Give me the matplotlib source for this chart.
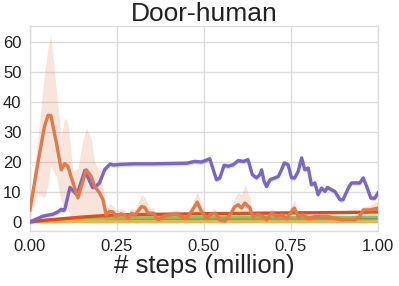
import matplotlib
matplotlib.use("Agg")
import matplotlib.pyplot as plt
import numpy as np

# ---------------- data ----------------
title = "Door-human"
xlabel = "# steps (million)"
xticks = [0.0, 0.25, 0.5, 0.75, 1.0]
xtick_labels = ["0.00", "0.25", "0.50", "0.75", "1.00"]
yticks = [0, 10, 20, 30, 40, 50, 60]

purple_x = [0.0, 0.02, 0.035, 0.05, 0.065, 0.08, 0.09, 0.095, 0.1, 0.115, 0.135, 0.158,
            0.17, 0.18, 0.19, 0.2, 0.215, 0.23, 0.24, 0.26, 0.3, 0.35, 0.4, 0.45, 0.474,
            0.493, 0.517, 0.527, 0.536, 0.546, 0.558, 0.57, 0.584, 0.599, 0.613, 0.627,
            0.639, 0.651, 0.661, 0.666, 0.673, 0.68, 0.69, 0.704, 0.714, 0.723, 0.731,
            0.742, 0.752, 0.761, 0.771, 0.781, 0.79, 0.8, 0.809, 0.819, 0.828, 0.838,
            0.848, 0.855, 0.867, 0.876, 0.891, 0.9, 0.915, 0.924, 0.939, 0.948, 0.958,
            0.968, 0.98, 0.991, 1.0]
purple_y = [0.0, 1.0, 1.8, 2.2, 2.5, 3.3, 4.2, 3.8, 4.0, 11.5, 9.0, 17.2,
            14.0, 11.5, 12.0, 13.0, 17.5, 19.3, 19.0, 19.2, 19.4, 19.4, 19.5, 19.6, 20.2,
            20.0, 21.1, 17.4, 14.1, 14.7, 18.9, 18.6, 19.1, 20.5, 20.2, 20.8,
            15.8, 14.7, 15.8, 17.4, 13.5, 11.8, 14.1, 14.7, 15.2, 17.4, 19.7,
            19.1, 14.7, 14.7, 16.9, 21.4, 17.4, 18.0, 12.4, 13.0, 9.1, 11.3,
            10.2, 11.5, 10.7, 10.2, 7.4, 7.4, 11.3, 13.0, 13.0, 13.0, 14.7,
            11.8, 7.9, 7.9, 9.6]
purple_spread = 0.8

orange_x = [0.0, 0.023, 0.042, 0.052, 0.06, 0.076, 0.09, 0.1, 0.109, 0.124, 0.138, 0.152,
            0.162, 0.176, 0.186, 0.2, 0.21, 0.219, 0.229, 0.239, 0.248, 0.262, 0.273,
            0.283, 0.292, 0.302, 0.321, 0.33, 0.34, 0.354, 0.369, 0.383, 0.402, 0.422,
            0.436, 0.45, 0.465, 0.481, 0.493, 0.508, 0.517, 0.532, 0.546, 0.56, 0.575,
            0.589, 0.599, 0.608, 0.618, 0.632, 0.64, 0.655, 0.67, 0.68, 0.694, 0.709,
            0.723, 0.738, 0.752, 0.76, 0.771, 0.785, 0.8, 0.819, 0.838, 0.857, 0.876,
            0.896, 0.915, 0.934, 0.948, 0.958, 0.977, 1.0]
orange_y = [4.0, 19.8, 32.0, 35.6, 35.6, 26.5, 17.4, 19.5, 18.6, 13.0, 8.0, 13.5,
            17.4, 15.2, 11.8, 9.7, 7.4, 2.3, 3.5, 3.3, 1.8, 2.7, 2.3,
            1.2, 2.9, 2.3, 5.1, 4.8, 2.9, 2.9, 0.7, 1.8, 2.3, 2.6,
            1.8, 1.2, 3.5, 6.6, 3.5, 1.2, 2.3, 2.9, 0.7, 0.3, 2.3,
            5.1, 5.7, 4.6, 6.3, 4.7, 1.8, 2.5, 1.8, 0.7, 2.9, 1.8,
            2.3, 1.2, 3.5, 4.6, 1.8, 2.3, 1.2, 1.8, 1.8, 1.8, 1.2,
            0.7, 0.7, 0.7, 1.8, 4.0, 4.0, 4.6]
orange_lo = [2.0, 9.5, 8.0, 12.0, 19.0, 15.0, 6.5, 5.0, 4.0, 1.0, 1.0, 1.5,
             2.0, 2.0, 2.0, 2.0, 1.5, 0.5, 1.0, 1.0, 0.5, 1.0, 1.0,
             0.3, 1.5, 1.0, 2.5, 2.0, 1.5, 1.5, 0.0, 0.8, 1.0, 1.5,
             1.0, 0.5, 2.0, 3.5, 2.0, 0.3, 1.0, 1.5, 0.0, 0.0, 1.0,
             3.0, 2.5, 2.0, 2.0, 2.0, 0.5, 1.0, 0.5, 0.0, 1.5, 0.5,
             1.0, 0.3, 1.5, 2.0, 0.5, 1.0, 0.3, 0.8, 0.8, 0.8, 0.5,
             0.2, 0.2, 0.2, 0.5, 2.0, 2.0, 2.5]
orange_hi = [6.0, 28.0, 50.0, 58.0, 62.7, 44.0, 28.0, 35.0, 33.0, 17.0, 18.0, 27.0,
             31.5, 28.0, 20.0, 17.0, 12.0, 5.0, 6.0, 5.5, 4.0, 4.5, 4.0,
             3.0, 4.5, 4.0, 9.0, 8.5, 5.0, 4.5, 2.0, 3.0, 3.5, 4.0,
             3.0, 2.5, 5.5, 10.0, 6.0, 2.5, 3.5, 4.5, 2.0, 1.5, 4.0,
             8.0, 10.0, 9.0, 12.5, 8.0, 3.5, 4.0, 3.0, 2.0, 4.5, 3.0,
             3.5, 2.5, 5.5, 7.5, 3.5, 3.5, 2.5, 3.0, 3.0, 3.0, 2.5,
             1.5, 1.5, 2.0, 3.5, 5.0, 5.5, 7.0]

red_x = [0.0, 0.05, 0.1, 0.15, 0.2, 0.25, 0.35, 0.5, 0.6, 0.75, 0.9, 1.0]
red_y = [0.0, 0.6, 1.1, 1.6, 2.0, 2.3, 2.5, 2.7, 2.8, 3.0, 3.1, 3.3]

low_x = [0.0, 0.05, 0.1, 0.2, 0.3, 0.5, 0.75, 1.0]
blue_y = [0.0, 0.3, 0.8, 1.0, 1.1, 1.1, 1.2, 1.2]
green_y = [0.0, 0.2, 0.6, 1.0, 1.4, 1.5, 1.5, 1.6]
grey_y = [0.0, 0.2, 0.4, 0.5, 0.6, 0.6, 0.7, 0.7]
gold_y = [0.0, 0.1, 0.2, 0.2, 0.2, 0.2, 0.2, 0.2]

# ---------------- plot ----------------
plt.rcParams['font.family'] = ['Liberation Sans', 'DejaVu Sans']
fig = plt.figure(figsize=(3.99, 2.86), dpi=100)
ax = fig.add_axes([0.075, 0.192, 0.872, 0.717])
ax.set_facecolor('white')

c_purple = '#7b66c2'
c_orange = '#e07a48'
c_red = '#e2481b'

ax.plot(low_x, grey_y, color='#b5aca4', lw=2.0, zorder=2)
ax.plot(low_x, blue_y, color='#3a78b0', lw=2.0, zorder=2)
ax.plot(low_x, green_y, color='#8dc55a', lw=2.0, zorder=2)
ax.plot(low_x, gold_y, color='#f3b33c', lw=2.4, zorder=2.5)

ax.plot(red_x, red_y, color=c_red, lw=2.4, zorder=3)

py = np.array(purple_y)
ax.fill_between(purple_x, py - purple_spread, py + purple_spread, color=c_purple,
                alpha=0.25, lw=0, zorder=3)
ax.plot(purple_x, purple_y, color=c_purple, lw=2.4, zorder=4)

ax.fill_between(orange_x, orange_lo, orange_hi, color=c_orange, alpha=0.2, lw=0, zorder=3)
ax.plot(orange_x, orange_y, color=c_orange, lw=2.4, zorder=5)

ax.set_xlim(0, 1.0)
ax.set_ylim(-3.1, 65.5)
ax.set_xticks(xticks)
ax.set_xticklabels(xtick_labels)
ax.set_yticks(yticks)
ax.grid(True, color='#dcdcdc', lw=1.0, zorder=0)
ax.set_axisbelow(True)
for s in ax.spines.values():
    s.set_color('#dcdcdc')
    s.set_linewidth(1.0)
ax.tick_params(length=0, labelsize=12, colors='#222222', pad=6)
ax.set_title(title, fontsize=19, color='#222222', pad=2)
ax.set_xlabel(xlabel, fontsize=18.5, color='#222222', labelpad=0)

fig.savefig('out.png', dpi=100, facecolor='white')
